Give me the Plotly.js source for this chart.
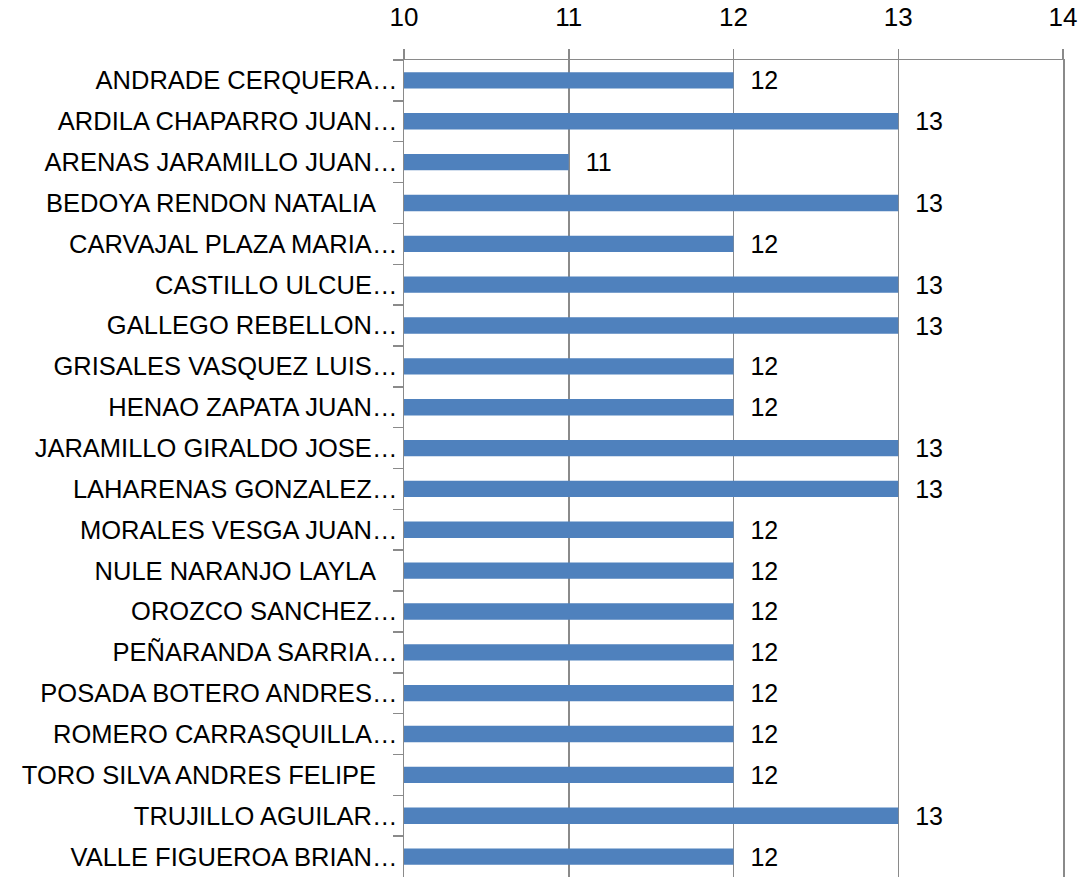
<!DOCTYPE html>
<html>
<head>
<meta charset="utf-8">
<script src="https://cdn.plot.ly/plotly-3.0.1.min.js"></script>
<style>html,body{margin:0;padding:0;background:#fff;}#chart{width:1085px;height:877px;}</style>
</head>
<body>
<div id="chart"></div>
<script>
const NB = "\u00a0";
const names = [
  "ANDRADE CERQUERA…",
  "ARDILA CHAPARRO JUAN…",
  "ARENAS JARAMILLO JUAN…",
  "BEDOYA RENDON NATALIA" + NB + NB + NB,
  "CARVAJAL PLAZA MARIA…",
  "CASTILLO ULCUE…",
  "GALLEGO REBELLON…",
  "GRISALES VASQUEZ LUIS…",
  "HENAO ZAPATA JUAN…",
  "JARAMILLO GIRALDO JOSE…",
  "LAHARENAS GONZALEZ…",
  "MORALES VESGA JUAN…",
  "NULE NARANJO LAYLA" + NB + NB + NB,
  "OROZCO SANCHEZ…",
  "PEÑARANDA SARRIA…",
  "POSADA BOTERO ANDRES…",
  "ROMERO CARRASQUILLA…",
  "TORO SILVA ANDRES FELIPE" + NB + NB + NB,
  "TRUJILLO AGUILAR…",
  "VALLE FIGUEROA BRIAN…"
];
const scores = [12, 13, 11, 13, 12, 13, 13, 12, 12, 13, 13, 12, 12, 12, 12, 12, 12, 12, 13, 12];
const xTicks = [10, 11, 12, 13, 14];

const FONT = "Liberation Sans, Arial, sans-serif";
const LINE = "#8a8a8a";

const trace = {
  type: "bar",
  orientation: "h",
  x: scores,
  y: names,
  width: 0.4,
  marker: {color: "#4f81bd"},
  text: scores.map(v => NB + NB + v),
  textposition: "outside",
  constraintext: "none",
  cliponaxis: false,
  textfont: {family: FONT, size: 25, color: "#000"},
  hoverinfo: "none"
};

const layout = {
  width: 1085,
  height: 877,
  margin: {l: 404, r: 22, t: 60, b: 0, pad: 0},
  paper_bgcolor: "#fff",
  plot_bgcolor: "#fff",
  showlegend: false,
  font: {family: FONT, size: 25, color: "#000"},
  xaxis: {
    side: "top",
    range: [10, 14],
    tickvals: xTicks,
    ticktext: xTicks.map(String),
    showgrid: true,
    gridcolor: LINE,
    gridwidth: 1.5,
    zeroline: false,
    showline: true,
    linecolor: LINE,
    linewidth: 1.5,
    ticks: "outside",
    ticklen: 10,
    tickcolor: LINE,
    tickwidth: 1.5,
    ticklabelstandoff: 12,
    tickfont: {family: FONT, size: 26, color: "#000"}
  },
  yaxis: {
    type: "category",
    autorange: "reversed",
    showgrid: false,
    zeroline: false,
    showline: true,
    mirror: true,
    linecolor: LINE,
    linewidth: 1.5,
    ticks: "outside",
    tickson: "boundaries",
    ticklen: 10,
    tickcolor: LINE,
    tickwidth: 1.5,
    tickfont: {family: FONT, size: 25.5, color: "#000"}
  }
};

Plotly.newPlot("chart", [trace], layout, {displayModeBar: false, staticPlot: true});
</script>
</body>
</html>
